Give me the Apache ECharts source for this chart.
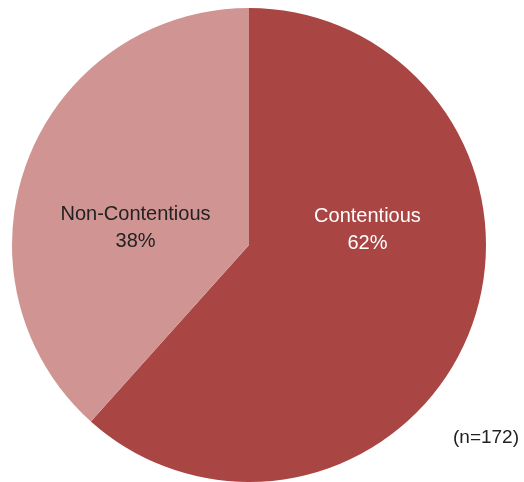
<!DOCTYPE html>
<html>
<head>
<meta charset="utf-8">
<script src="https://cdn.jsdelivr.net/npm/echarts@6/dist/echarts.min.js"></script>
<style>
  html, body { margin: 0; padding: 0; background: #fff; }
  #chart { width: 524px; height: 482px; }
</style>
</head>
<body>
<div id="chart"></div>
<script>
// Disputes by type (sample of 172)
const categories = ['Contentious', 'Non-Contentious'];
const counts = [106, 66];
const colors = ['#A94542', '#D09493'];
const labelColors = ['#ffffff', '#222222'];
const sampleNote = '(n=172)';

const chart = echarts.init(document.getElementById('chart'), null, { renderer: 'canvas' });

// label shifts relative to the default inside position
const labelShift = [
  { dx: 5, dy: -58 },
  { dx: 0, dy: 26 }
];

chart.setOption({
  animation: false,
  graphic: [{
    type: 'text',
    right: 5,
    top: 428,
    style: { text: sampleNote, font: '19px "Liberation Sans", Arial, sans-serif', fill: '#222' }
  }],
  series: [{
    type: 'pie',
    center: [249, 245],
    radius: [0, 237],
    startAngle: 90,
    clockwise: true,
    silent: true,
    itemStyle: { borderWidth: 0 },
    label: {
      position: 'inside',
      formatter: p => p.name + '\n' + Math.round(p.percent) + '%',
      fontFamily: '"Liberation Sans", Arial, sans-serif',
      fontSize: 20,
      lineHeight: 27,
      align: 'center'
    },
    labelLine: { show: false },
    labelLayout: p => labelShift[p.dataIndex],
    data: categories.map((c, i) => ({
      name: c,
      value: counts[i],
      itemStyle: { color: colors[i] },
      label: { color: labelColors[i] }
    }))
  }]
});
</script>
</body>
</html>
